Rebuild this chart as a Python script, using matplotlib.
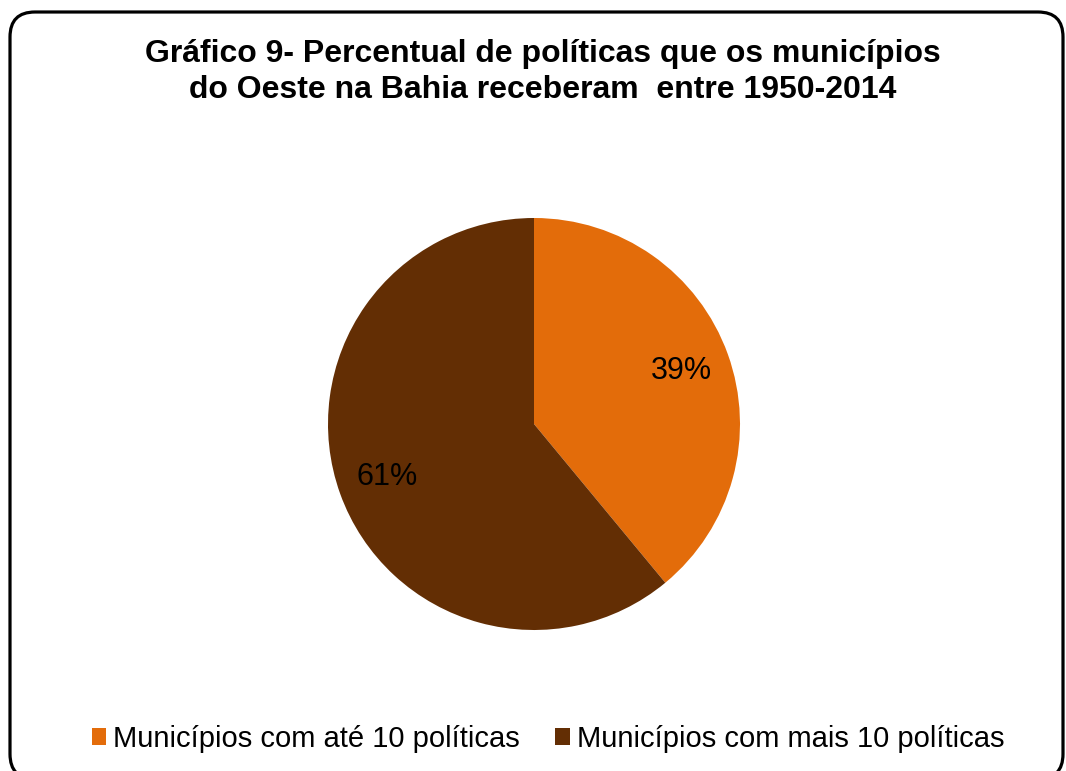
import matplotlib.pyplot as plt
from matplotlib.patches import FancyBboxPatch, Patch

plt.rcParams['font.family'] = ['Liberation Sans', 'DejaVu Sans']

# dados do gráfico
categorias = ['Municípios com até 10 políticas', 'Municípios com mais 10 políticas']
percentuais = [39, 61]
cores = ['#E36C0A', '#632E04']
titulo = 'Gráfico 9- Percentual de políticas que os municípios\ndo Oeste na Bahia receberam  entre 1950-2014'

W, H = 1066, 771
fig = plt.figure(figsize=(W / 100, H / 100), dpi=100)

# moldura arredondada em volta do gráfico
moldura = FancyBboxPatch((0.10, -0.08), 10.53, 7.67,
                         boxstyle='round,pad=0,rounding_size=0.25',
                         transform=fig.dpi_scale_trans, fill=False,
                         edgecolor='black', linewidth=2.3, clip_on=False)
fig.patches.append(moldura)

fig.text(543 / W, 1 - 72 / H, titulo, ha='center', va='center',
         fontsize=23, fontweight='bold', linespacing=1.22)

# pizza: centro em (534, 424) px, raio 206 px
cx, cy, r = 534, 424, 206
ax = fig.add_axes([(cx - r) / W, 1 - (cy + r) / H, 2 * r / W, 2 * r / H])
ax.pie(percentuais, colors=cores, startangle=90, counterclock=False,
       autopct='%d%%', pctdistance=0.76, textprops={'fontsize': 22, 'color': 'black'},
       wedgeprops={'linewidth': 0})
ax.set_xlim(-1, 1)
ax.set_ylim(-1, 1)
ax.set_aspect('equal')

handles = [Patch(facecolor=c, edgecolor='none') for c in cores]
fig.legend(handles, categorias, loc='center', bbox_to_anchor=(548 / W, 1 - 739 / H),
           ncol=2, frameon=False, fontsize=21, handlelength=0.5, handleheight=0.5,
           handletextpad=0.25, columnspacing=1.2)

fig.savefig('out.png', dpi=100)
